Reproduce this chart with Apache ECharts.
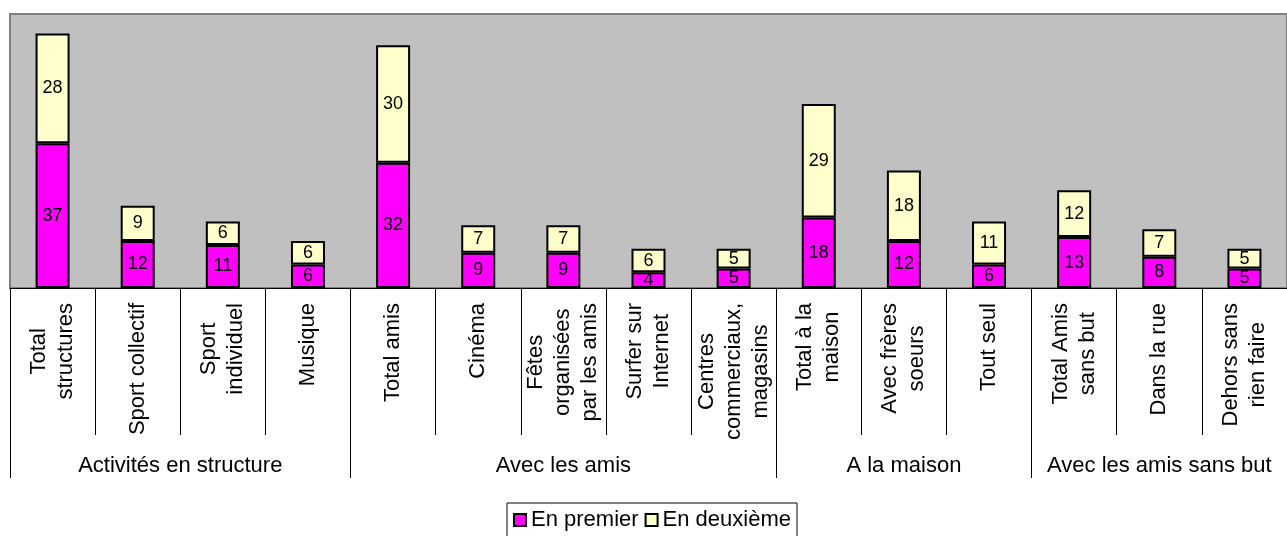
<!DOCTYPE html>
<html>
<head>
<meta charset="utf-8">
<script src="https://cdn.jsdelivr.net/npm/echarts@6/dist/echarts.min.js"></script>
<style>
  html, body { margin: 0; padding: 0; background: #ffffff; }
  #chart { width: 1287px; height: 536px; }
</style>
</head>
<body>
<div id="chart"></div>
<script>
// Activities, grouped by theme
const categories = [
  'Total\nstructures', 'Sport collectif', 'Sport\nindividuel', 'Musique',
  'Total amis', 'Cinéma', 'Fêtes\norganisées\npar les amis', 'Surfer sur\nInternet',
  'Centres\ncommerciaux,\nmagasins',
  'Total à la\nmaison', 'Avec frères\nsoeurs', 'Tout seul',
  'Total Amis\nsans but', 'Dans la rue', 'Dehors sans\nrien faire'
];
const groupNames = ['Activités en structure', 'Avec les amis', 'A la maison', 'Avec les amis sans but'];
const groupBounds = [0, 4, 9, 12, 15];

const enPremier  = [37, 12, 11, 6, 32, 9, 9, 4, 5, 18, 12, 6, 13, 8, 5];
const enDeuxieme = [28, 9, 6, 6, 30, 7, 7, 6, 5, 29, 18, 11, 12, 7, 5];

const FONT = '"Liberation Sans", Arial, sans-serif';

const groupCenters = groupBounds.slice(0, -1).map((b, i) => (b + groupBounds[i + 1]) / 2);

const chart = echarts.init(document.getElementById('chart'), null, { renderer: 'canvas' });

const barLabel = {
  show: true,
  position: 'inside',
  color: '#000',
  fontSize: 18,
  fontFamily: FONT
};

chart.setOption({
  animation: false,
  textStyle: { fontFamily: FONT },
  grid: {
    left: 10, top: 14, width: 1288, height: 274,
    show: true,
    backgroundColor: '#c0c0c0',
    borderColor: '#808080',
    borderWidth: 2
  },
  legend: {
    left: 507, top: 503,
    orient: 'horizontal',
    itemWidth: 12, itemHeight: 12, itemGap: 6,
    padding: [6, 6, 6, 6],
    borderColor: '#000', borderWidth: 1,
    icon: 'rect',
    textStyle: { fontSize: 22, color: '#000', fontFamily: FONT, padding: [0, 0, 0, 0] },
    data: ['En premier', 'En deuxième']
  },
  xAxis: [
    {
      type: 'category',
      data: categories,
      axisLine: { show: true, lineStyle: { color: '#000', width: 1 } },
      axisTick: { show: true, interval: 0, length: 147, lineStyle: { color: '#000' } },
      axisLabel: {
        interval: 0,
        rotate: 90,
        margin: 15,
        color: '#000',
        fontSize: 22,
        fontFamily: FONT,
        lineHeight: 27,
        formatter: v => v.split('\n').map(l => '{c|' + l + '}').join('\n'),
        rich: { c: { align: 'center', fontSize: 22, lineHeight: 27, fontFamily: FONT, color: '#000' } }
      },
      splitLine: { show: false }
    },
    {
      type: 'value',
      min: 0, max: 15,
      position: 'bottom',
      axisLine: { show: false },
      splitLine: { show: false },
      axisTick: {
        show: true,
        customValues: groupBounds,
        length: 190,
        lineStyle: { color: '#000' }
      },
      axisLabel: {
        show: true,
        customValues: groupCenters,
        margin: 167,
        color: '#000',
        fontSize: 22,
        fontFamily: FONT,
        formatter: v => groupNames[groupCenters.indexOf(v)] || ''
      }
    }
  ],
  yAxis: {
    type: 'value',
    min: 0, max: 70,
    show: false,
    splitLine: { show: false }
  },
  series: [
    {
      name: 'En premier',
      type: 'bar',
      stack: 'total',
      barWidth: 34,
      data: enPremier,
      itemStyle: { color: '#ff00ff', borderColor: '#000', borderWidth: 2 },
      label: barLabel
    },
    {
      name: 'En deuxième',
      type: 'bar',
      stack: 'total',
      barWidth: 34,
      data: enDeuxieme,
      itemStyle: { color: '#ffffcc', borderColor: '#000', borderWidth: 2 },
      label: barLabel
    }
  ]
});
</script>
</body>
</html>
